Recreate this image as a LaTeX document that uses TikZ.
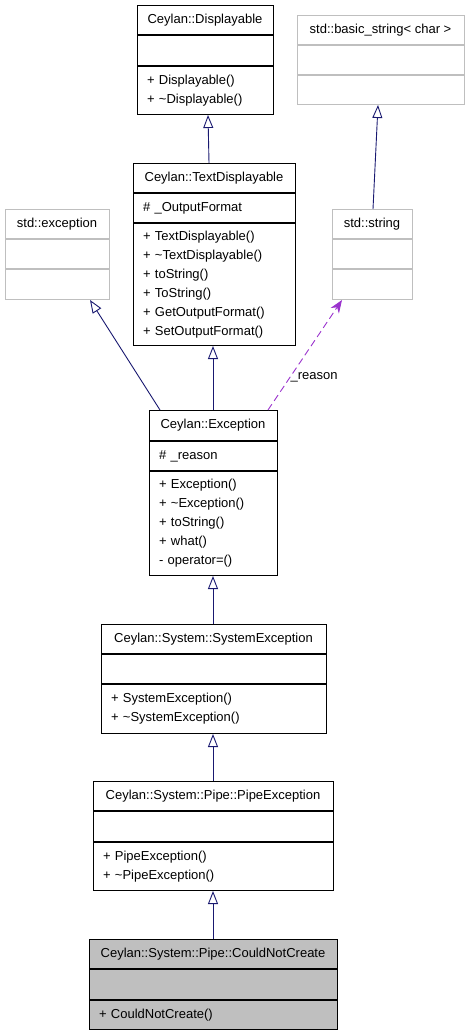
\documentclass[tikz,border=0pt]{standalone}
\usepackage{fontspec}
\setmainfont{Liberation Sans}
\usetikzlibrary{arrows.meta, positioning, calc}

\definecolor{edgeblue}{HTML}{191970}
\definecolor{assocpurple}{HTML}{9A32CD}
\definecolor{boxgray}{HTML}{BFBFBF}

\begin{document}
\begin{tikzpicture}[x=1pt, y=-1pt, >=Latex, node distance=0pt,
                    cls/.style={draw, line width=1pt, inner sep=0pt, minimum height=29pt,
                                font=\fontsize{13}{19}\selectfont},
                    ext/.style={cls, draw=boxgray},
                    body/.style={align=left, inner xsep=10pt},
                    inh/.style={draw=edgeblue, line width=0.9pt,
                                -{Triangle[open, length=13pt, width=10pt]}},
                    uses/.style={draw=assocpurple, line width=0.9pt, dash pattern=on 7pt off 4pt,
                                 -{Stealth[length=13pt, width=10pt]}}]

\useasboundingbox (0,0) rectangle (468,1032);

% Classes
\node[cls, minimum width=136pt, anchor=north] (DispT) at (205,5) {Ceylan::Displayable};
\node[cls, minimum width=136pt, minimum height=30pt, below=of DispT] (DispA) {};
\node[cls, body, text width=116pt, minimum height=48pt, below=of DispA] (DispM)
     {+ Displayable()\\+ \textasciitilde Displayable()};

\node[ext, minimum width=167pt, anchor=north] (BStrT) at (380.5,15) {std::basic\_string< char >};
\node[ext, minimum width=167pt, below=of BStrT] (BStrA) {};
\node[ext, minimum width=167pt, below=of BStrA] (BStrM) {};

\node[cls, minimum width=162pt, anchor=north] (TDT) at (214,163) {Ceylan::TextDisplayable};
\node[cls, body, text width=142pt, below=of TDT] (TDA) {\# \_OutputFormat};
\node[cls, body, text width=142pt, minimum height=122pt, below=of TDA] (TDM)
     {+ TextDisplayable()\\+ \textasciitilde TextDisplayable()\\+ toString()\\+ ToString()\\+ GetOutputFormat()\\+ SetOutputFormat()};

\node[ext, minimum width=104pt, anchor=north] (SExcT) at (57,209) {std::exception};
\node[ext, minimum width=104pt, below=of SExcT] (SExcA) {};
\node[ext, minimum width=104pt, minimum height=30pt, below=of SExcA] (SExcM) {};

\node[ext, minimum width=80pt, anchor=north] (StrT) at (372,209) {std::string};
\node[ext, minimum width=80pt, below=of StrT] (StrA) {};
\node[ext, minimum width=80pt, minimum height=30pt, below=of StrA] (StrM) {};

\node[cls, minimum width=128pt, minimum height=30pt, anchor=north] (ExcT) at (213,410) {Ceylan::Exception};
\node[cls, body, text width=108pt, below=of ExcT] (ExcA) {\# \_reason};
\node[cls, body, text width=108pt, minimum height=104pt, below=of ExcA] (ExcM)
     {+ Exception()\\+ \textasciitilde Exception()\\+ toString()\\+ what()\\- operator=()};

\node[cls, minimum width=225pt, anchor=north] (SysT) at (213.5,624) {Ceylan::System::SystemException};
\node[cls, minimum width=225pt, below=of SysT] (SysA) {};
\node[cls, body, text width=205pt, minimum height=49pt, below=of SysA] (SysM)
     {+ SystemException()\\+ \textasciitilde SystemException()};

\node[cls, minimum width=240pt, anchor=north] (PipeT) at (213,781) {Ceylan::System::Pipe::PipeException};
\node[cls, minimum width=240pt, minimum height=30pt, below=of PipeT] (PipeA) {};
\node[cls, body, text width=220pt, minimum height=48pt, below=of PipeA] (PipeM)
     {+ PipeException()\\+ \textasciitilde PipeException()};

\node[cls, fill=boxgray, minimum width=248pt, anchor=north] (CNCT) at (213,939) {Ceylan::System::Pipe::CouldNotCreate};
\node[cls, fill=boxgray, minimum width=248pt, minimum height=30pt, below=of CNCT] (CNCA) {};
\node[cls, body, fill=boxgray, text width=228pt, below=of CNCA] (CNCM) {+ CouldNotCreate()};

% Inheritance
\draw[inh] ([xshift=-5pt]TDT.north) -- ([xshift=3pt]DispM.south);
\draw[inh] ([xshift=1pt]StrT.north) -- ([xshift=-2.5pt]BStrM.south);
\draw[inh] ([xshift=-53pt]ExcT.north) -- ([xshift=33pt]SExcM.south);
\draw[inh] (ExcT.north) -- ([xshift=-1pt]TDM.south);
\draw[inh] ([xshift=-0.5pt]SysT.north) -- (ExcM.south);
\draw[inh] (PipeT.north) -- ([xshift=-0.5pt]SysM.south);
\draw[inh] (CNCT.north) -- (PipeM.south);

% Usage
\draw[uses] ([xshift=55pt]ExcT.north) -- node[pos=0.3, anchor=west, inner sep=0pt,
     font=\fontsize{13}{19}\selectfont] (reasonLbl) {\_reason} ([xshift=-30pt]StrM.south);

\end{tikzpicture}
\end{document}
